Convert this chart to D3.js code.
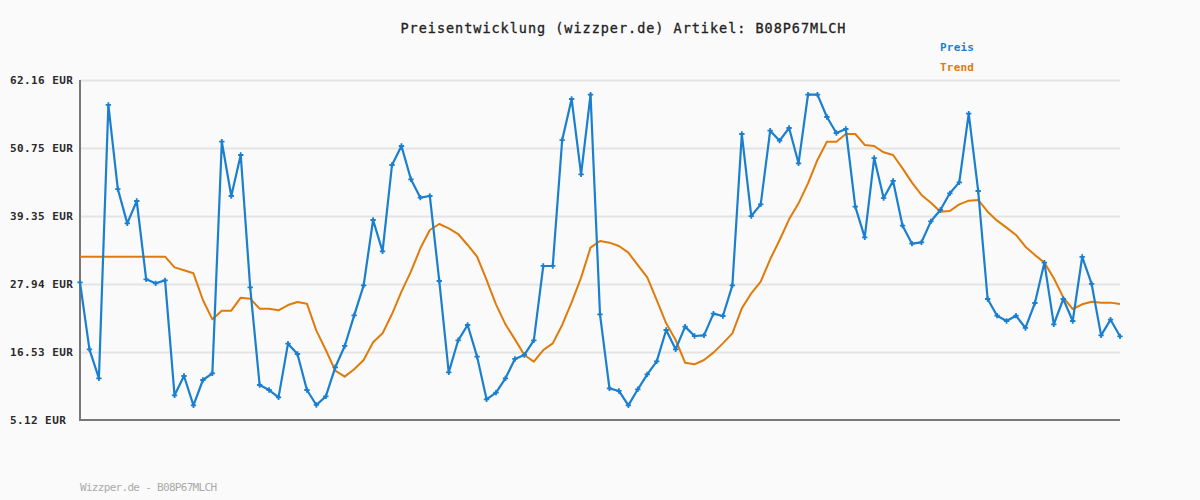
<!DOCTYPE html>
<html>
<head>
<meta charset="utf-8">
<script src="https://cdn.jsdelivr.net/npm/d3@7"></script>
<style>
  html, body { margin: 0; padding: 0; background: #fafafa; }
  svg { display: block; }
</style>
</head>
<body>
<svg id="chart" width="1200" height="500"></svg>
<script>
const title = "Preisentwicklung (wizzper.de) Artikel: B08P67MLCH";
const footer = "Wizzper.de - B08P67MLCH";
const seriesNames = ["Preis", "Trend"];
const tickValues = [5.12, 16.53, 27.94, 39.35, 50.75, 62.16];
const tickLabels = ["5.12 EUR", "16.53 EUR", "27.94 EUR", "39.35 EUR", "50.75 EUR", "62.16 EUR"];

const preis = [
  28.22, 16.98, 12.11, 57.97, 43.87, 38.11, 41.86, 28.72, 28.05, 28.55,
  9.26, 12.50, 7.58, 11.83, 12.95, 51.81, 42.70, 49.58, 27.38, 10.99,
  10.15, 8.92, 17.93, 16.19, 10.15, 7.64, 9.09, 13.96, 17.54, 22.68,
  27.71, 38.67, 33.42, 47.90, 51.09, 45.50, 42.42, 42.70, 28.44, 13.12,
  18.49, 21.06, 15.75, 8.59, 9.71, 12.11, 15.36, 16.03, 18.49, 30.96,
  30.96, 52.09, 58.97, 46.33, 59.70, 22.85, 10.43, 9.99, 7.58, 10.27,
  12.78, 14.96, 20.22, 16.98, 20.78, 19.21, 19.32, 22.96, 22.57, 27.71,
  53.10, 39.34, 41.30, 53.66, 51.98, 54.11, 48.18, 59.70, 59.70, 55.95,
  53.27, 53.94, 40.91, 35.77, 49.07, 42.36, 45.22, 37.72, 34.70, 34.93,
  38.45, 40.35, 43.15, 44.99, 56.51, 43.54, 25.42, 22.62, 21.73, 22.62,
  20.56, 24.75, 31.52, 21.17, 25.42, 21.73, 32.47, 27.94, 19.32, 21.95,
  19.16
];

const trend = [
  32.52, 32.52, 32.52, 32.52, 32.52, 32.52, 32.52, 32.52, 32.52, 32.52,
  30.73, 30.23, 29.73, 25.25, 22.01, 23.46, 23.46, 25.64, 25.48, 23.80,
  23.80, 23.52, 24.41, 24.92, 24.64, 20.11, 16.86, 13.40, 12.39, 13.62,
  15.19, 18.15, 19.66, 22.90, 26.65, 30.01, 33.92, 37.00, 38.00, 37.28,
  36.32, 34.48, 32.52, 28.61, 24.53, 21.17, 18.65, 16.03, 14.91, 16.86,
  17.98, 21.06, 24.86, 29.00, 34.03, 35.15, 34.87, 34.31, 33.19, 31.12,
  29.06, 25.25, 21.34, 18.54, 14.74, 14.46, 15.19, 16.42, 17.98, 19.66,
  23.85, 26.37, 28.33, 32.08, 35.32, 38.79, 41.47, 44.82, 48.74, 51.81,
  51.81, 53.10, 53.10, 51.26, 51.09, 50.03, 49.58, 47.34, 44.94, 42.87,
  41.58, 40.07, 40.18, 41.30, 41.92, 42.03, 40.07, 38.56, 37.39, 36.16,
  34.20, 32.80, 31.52, 28.89, 25.70, 23.74, 24.53, 24.97, 24.81, 24.81,
  24.58
];

const colors = { preis: "#1a7fcf", trend: "#e07b0a" };
const svg = d3.select("#chart");
const plotLeft = 80, plotRight = 1120, plotTop = 80, plotBottom = 420;

const x = d3.scaleLinear().domain([0, preis.length - 1]).range([plotLeft, plotRight]);
const y = d3.scaleLinear().domain([tickValues[0], tickValues[tickValues.length - 1]]).range([plotBottom, plotTop]);

svg.append("rect").attr("width", 1200).attr("height", 500).attr("fill", "#fafafa");

// grid lines
const gridAxis = d3.axisLeft(y).tickValues(tickValues.slice(1)).tickSize(-(plotRight - plotLeft)).tickFormat("");
const gg = svg.append("g").attr("transform", `translate(${plotLeft},0)`).call(gridAxis);
gg.select(".domain").remove();
gg.selectAll("line").attr("stroke", "#e4e4e4").attr("stroke-width", 2);

// y labels
const labelAxis = d3.axisLeft(y).tickValues(tickValues).tickSize(0).tickFormat((d, i) => tickLabels[i]);
const lg = svg.append("g").attr("transform", `translate(10,0)`).call(labelAxis);
lg.select(".domain").remove();
lg.selectAll("text")
  .attr("text-anchor", "start")
  .attr("x", 0)
  .attr("dy", "0.35em")
  .attr("fill", "#2a2a2a")
  .style("font-family", "'DejaVu Sans Mono', monospace")
  .style("font-size", "11px")
  .style("letter-spacing", "0.4px")
  .style("font-weight", "bold");

// axis lines
svg.append("line").attr("x1", plotLeft).attr("x2", plotLeft).attr("y1", plotTop).attr("y2", plotBottom + 1)
  .attr("stroke", "#777").attr("stroke-width", 2);
svg.append("line").attr("x1", plotLeft - 1).attr("x2", plotRight).attr("y1", plotBottom).attr("y2", plotBottom)
  .attr("stroke", "#777").attr("stroke-width", 2);

// trend line
const line = d3.line().x((d, i) => x(i)).y(d => y(d));
svg.append("path").datum(trend).attr("d", line)
  .attr("fill", "none").attr("stroke", colors.trend).attr("stroke-width", 2)
  .attr("stroke-linejoin", "round");

// preis line
svg.append("path").datum(preis).attr("d", line)
  .attr("fill", "none").attr("stroke", colors.preis).attr("stroke-width", 2.2)
  .attr("stroke-linejoin", "round");

// markers
svg.append("g").selectAll("path").data(preis).join("path")
  .attr("transform", (d, i) => `translate(${x(i)},${y(d)})`)
  .attr("d", d3.symbol().type(d3.symbolCross).size(16))
  .attr("fill", colors.preis);

// title
svg.append("text").attr("x", 623).attr("y", 33).attr("text-anchor", "middle")
  .attr("textLength", 445).attr("lengthAdjust", "spacing")
  .attr("fill", "#222")
  .style("font-family", "'DejaVu Sans Mono', monospace").style("font-size", "13.5px")
  .style("stroke", "#222").style("stroke-width", "0.3px")
  .text(title);

// legend
const legend = svg.append("g");
legend.selectAll("text").data(seriesNames).join("text")
  .attr("x", 940).attr("y", (d, i) => 51 + i * 20)
  .attr("fill", (d, i) => i === 0 ? colors.preis : colors.trend)
  .style("font-family", "'DejaVu Sans Mono', monospace").style("font-size", "11px")
  .style("letter-spacing", "0.2px")
  .style("font-weight", "bold")
  .text(d => d);

// footer
svg.append("text").attr("x", 80).attr("y", 491)
  .attr("textLength", 137).attr("lengthAdjust", "spacing")
  .attr("fill", "#aaa")
  .style("font-family", "'DejaVu Sans Mono', monospace").style("font-size", "11px")
  .text(footer);
</script>
</body>
</html>
